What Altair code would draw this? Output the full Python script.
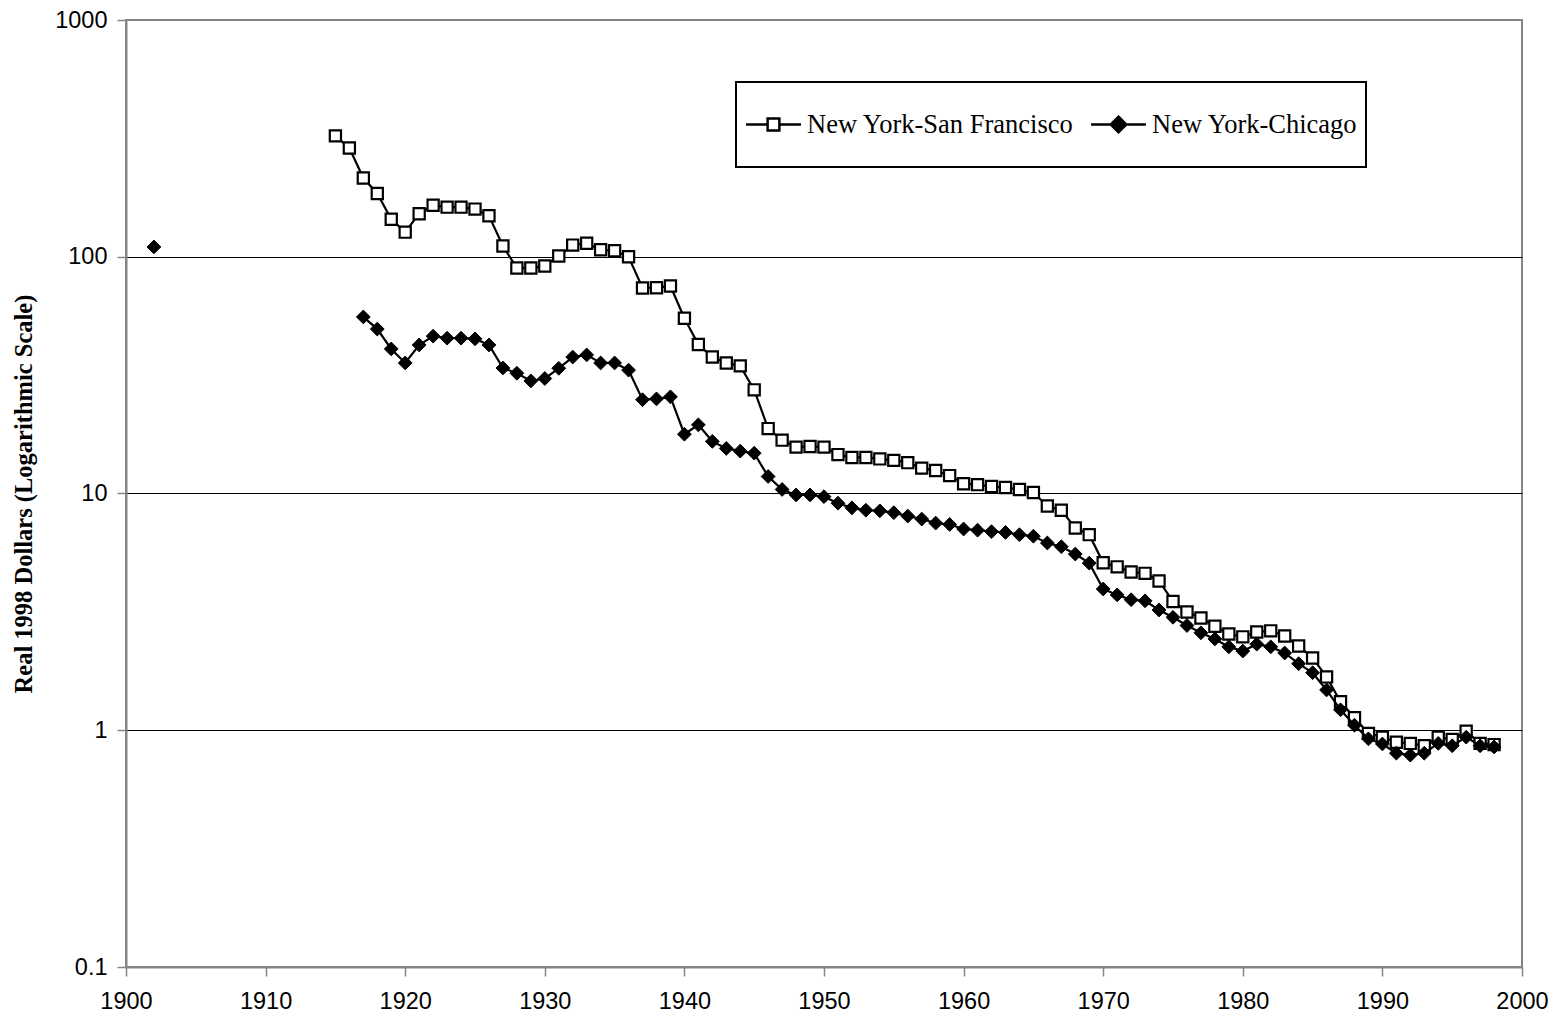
import altair as alt
import pandas as pd

SF_NAME = "New York-San Francisco"
CHI_NAME = "New York-Chicago"

sf_years = list(range(1915, 1999))
sf_values = [
    324, 288, 215, 185, 144, 127, 152, 165, 162, 162,
    159, 149, 111, 89.6, 89.6, 91.4, 100.7, 112, 114, 107,
    106, 100, 73.8, 74, 75.2, 55, 42.6, 37.7, 35.6, 34.6,
    27.4, 18.8, 16.8, 15.7, 15.8, 15.7, 14.6, 14.2, 14.2, 14.0,
    13.8, 13.5, 12.8, 12.5, 11.9, 11.0, 10.9, 10.7, 10.6, 10.4,
    10.1, 8.85, 8.5, 7.15, 6.7, 5.1, 4.9, 4.66, 4.6, 4.27,
    3.5, 3.16, 2.98, 2.75, 2.55, 2.48, 2.6, 2.63, 2.5, 2.27,
    2.02, 1.68, 1.32, 1.13, 0.97, 0.935, 0.89, 0.88, 0.86, 0.935,
    0.915, 0.99, 0.88, 0.87,
]

chi_years = [1902] + list(range(1917, 1999))
chi_values = [
    110,
    55.7, 49.5, 40.8, 35.6, 42.4, 46.2, 45.3, 45.3, 45.0, 42.4,
    33.9, 32.2, 29.9, 30.6, 33.8, 37.7, 38.5, 35.6, 35.6, 33.2,
    24.9, 25.1, 25.6, 17.8, 19.5, 16.6, 15.5, 15.1, 14.8, 11.8,
    10.4, 9.86, 9.86, 9.7, 9.1, 8.7, 8.5, 8.45, 8.3, 8.03,
    7.8, 7.5, 7.4, 7.08, 7.0, 6.9, 6.85, 6.7, 6.6, 6.18,
    5.96, 5.55, 5.08, 3.95, 3.73, 3.56, 3.52, 3.22, 3.0, 2.77,
    2.58, 2.43, 2.25, 2.16, 2.31, 2.25, 2.12, 1.91, 1.75, 1.48,
    1.22, 1.05, 0.92, 0.875, 0.80, 0.785, 0.80, 0.88, 0.86, 0.935,
    0.86, 0.85,
]

x_ticks = list(range(1900, 2001, 10))
y_ticks = [0.1, 1, 10, 100, 1000]
y_title = "Real 1998 Dollars (Logarithmic Scale)"


def frame(name, years, values):
    rows, seg, prev = [], 0, None
    for yr, v in zip(years, values):
        if prev is not None and yr - prev > 1:
            seg += 1
        rows.append({"series": name, "year": yr, "value": v, "seg": f"{name}-{seg}"})
        prev = yr
    return pd.DataFrame(rows)


sf = frame(SF_NAME, sf_years, sf_values)
chi = frame(CHI_NAME, chi_years, chi_values)
both = pd.concat([sf, chi], ignore_index=True)

GRAY = "#858585"

x_enc = alt.X(
    "year:Q",
    scale=alt.Scale(domain=[1900, 2000], nice=False, zero=False),
    axis=alt.Axis(
        values=x_ticks, format="d", title=None, grid=False,
        labelFont="Liberation Sans", labelFontSize=23.5, labelColor="black",
        labelPadding=13, labelFlush=False, labelOverlap=False,
        tickSize=9, tickColor=GRAY, tickWidth=1.5,
        domainColor=GRAY, domainWidth=2,
    ),
)
y_enc = alt.Y(
    "value:Q",
    scale=alt.Scale(type="log", domain=[0.1, 1000], nice=False),
    axis=alt.Axis(
        values=y_ticks, format="~g", title=y_title,
        titleFont="Liberation Serif", titleFontSize=24.5, titleFontWeight="bold",
        titleColor="black", titlePadding=18,
        labelFont="Liberation Sans", labelFontSize=23.5, labelColor="black",
        labelPadding=10, labelFlush=False, labelOverlap=False,
        tickSize=9, tickColor=GRAY, tickWidth=1.5,
        domainColor=GRAY, domainWidth=2,
        grid=True, gridWidth=1,
        gridColor={"condition": {"test": "datum.value >= 1000 || datum.value <= 0.1",
                                 "value": "rgba(0,0,0,0)"},
                   "value": "#000000"},
    ),
)

sf_line = alt.Chart(sf).mark_line(color="black", strokeWidth=2.2).encode(
    x=x_enc, y=y_enc, detail="seg:N")
sf_pts = alt.Chart(sf).mark_point(
    shape="square", filled=True, fill="white", stroke="black",
    strokeWidth=2.2, size=125, opacity=1).encode(x=x_enc, y=y_enc)
chi_line = alt.Chart(chi).mark_line(color="black", strokeWidth=2.2).encode(
    x=x_enc, y=y_enc, detail="seg:N")
chi_pts = alt.Chart(chi).mark_point(
    shape="diamond", filled=True, fill="black", stroke="black",
    strokeWidth=1, size=190, opacity=1).encode(x=x_enc, y=y_enc)

# legend symbols: line - marker - line (path coordinates scaled by symbol size)
sf_path = ("M-0.98,0L-0.21,0M0.21,0L0.98,0"
           "M-0.21,-0.21L0.21,-0.21L0.21,0.21L-0.21,0.21Z")
chi_path = ("M-0.98,0L-0.28,0M0.28,0L0.98,0"
            "M0,-0.28L0.28,0L0,0.28L-0.28,0Z")

domain = [SF_NAME, CHI_NAME]
leg = alt.Legend(
    orient="none", legendX=610, legendY=62, direction="horizontal", title=None,
    labelFont="Liberation Serif", labelFontSize=26.5, labelColor="black",
    labelLimit=500, symbolSize=3136, symbolOffset=0, labelOffset=4,
    clipHeight=69, columnPadding=15, padding=8, strokeColor="black",
    symbolStrokeColor="black", symbolStrokeWidth=2.5, symbolOpacity=1,
)
legend_layer = alt.Chart(both).transform_filter("false").mark_point(
    filled=True, stroke="black", strokeWidth=2.5, opacity=1).encode(
    x=x_enc, y=y_enc,
    shape=alt.Shape("series:N", scale=alt.Scale(domain=domain,
                                                range=[sf_path, chi_path]), legend=leg),
    fill=alt.Fill("series:N", scale=alt.Scale(domain=domain,
                                              range=["white", "black"]), legend=leg),
    stroke=alt.Stroke("series:N", scale=alt.Scale(domain=domain,
                                                  range=["black", "black"]), legend=leg),
)

chart = alt.layer(sf_line, sf_pts, chi_line, chi_pts, legend_layer).properties(
    width=1396, height=947,
    autosize=alt.AutoSizeParams(type="none"),
    padding={"left": 118, "top": 12, "right": 30, "bottom": 46},
).configure_view(
    stroke=GRAY, strokeWidth=2
).configure_legend(
    strokeWidth=2
)

chart.save("out.html", embed_options={"renderer": "svg", "actions": False})
